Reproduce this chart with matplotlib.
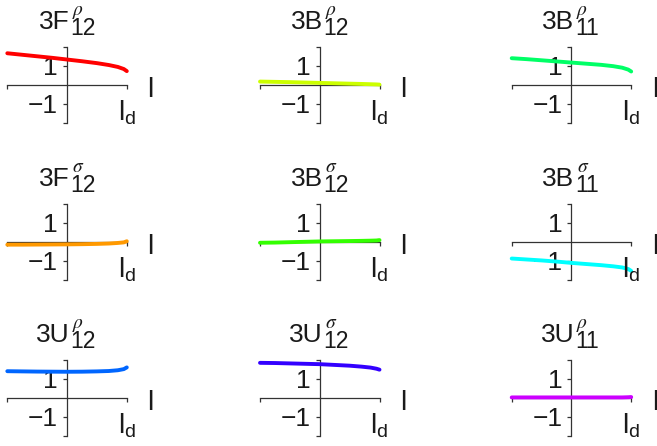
import numpy as np
from matplotlib import pyplot as plt

plt.rcParams['font.family'] = ['Liberation Sans', 'DejaVu Sans']
plt.rcParams['axes.unicode_minus'] = True

# sample positions along l, from -l_d to l_d
l_pts = [-1, -0.75, -0.5, -0.25, 0, 0.25, 0.5, 0.7, 0.85, 0.95, 1]

F12_rho = [1.66, 1.58, 1.50, 1.42, 1.33, 1.24, 1.14, 1.04, 0.94, 0.83, 0.72]
B12_rho = [0.17, 0.155, 0.14, 0.12, 0.10, 0.08, 0.06, 0.045, 0.03, 0.02, 0.01]
B11_rho = [1.40, 1.35, 1.29, 1.23, 1.17, 1.11, 1.05, 0.98, 0.90, 0.80, 0.70]
F12_sig = [-0.14, -0.14, -0.135, -0.13, -0.125, -0.115, -0.10, -0.08, -0.05, -0.02, 0.04]
B12_sig = [-0.04, -0.03, -0.01, 0.01, 0.03, 0.04, 0.05, 0.06, 0.07, 0.08, 0.10]
B11_sig = [-0.87, -0.92, -0.97, -1.03, -1.10, -1.16, -1.22, -1.28, -1.34, -1.42, -1.52]
U12_rho = [1.40, 1.39, 1.38, 1.375, 1.37, 1.375, 1.39, 1.41, 1.45, 1.51, 1.60]
U12_sig = [1.84, 1.83, 1.81, 1.79, 1.77, 1.73, 1.69, 1.64, 1.59, 1.53, 1.48]
U11_rho = [0.02, 0.02, 0.02, 0.02, 0.02, 0.02, 0.02, 0.02, 0.02, 0.03, 0.04]

# (letter, greek superscript, subscript) per panel, row by row
titles = [('3F', 'ρ', '12'), ('3B', 'ρ', '12'), ('3B', 'ρ', '11'),
          ('3F', 'σ', '12'), ('3B', 'σ', '12'), ('3B', 'σ', '11'),
          ('3U', 'ρ', '12'), ('3U', 'σ', '12'), ('3U', 'ρ', '11')]
series = [F12_rho, B12_rho, B11_rho,
          F12_sig, B12_sig, B11_sig,
          U12_rho, U12_sig, U11_rho]
colors = ['#ff0000', '#ccff00', '#00ff66',
          '#ff9900', '#33ff00', '#00ffff',
          '#0066ff', '#3300ff', '#cc00ff']

W, H = 657, 446
fig = plt.figure(figsize=(W / 100, H / 100), dpi=100)

col_left = [7.3, 260, 511.7]      # px, left end of each x-axis
row_top = [46.8, 204, 359.8]      # px, top of each y-axis
box_w, box_h = 119.5, 76
axis_col = '#333333'
txt_col = '#1a1a1a'

for k in range(9):
    r, c = divmod(k, 3)
    ax = fig.add_axes([col_left[c] / W, 1 - (row_top[r] + box_h) / H,
                       box_w / W, box_h / H])
    ax.set_xlim(-1, 1)
    ax.set_ylim(-2, 2)
    ax.patch.set_visible(False)
    for s in ['top', 'right']:
        ax.spines[s].set_visible(False)
    ax.spines['left'].set_position('zero')
    ax.spines['bottom'].set_position('zero')
    for s in ['left', 'bottom']:
        ax.spines[s].set_color(axis_col)
        ax.spines[s].set_linewidth(0.9)

    ax.set_yticks([-2, -1, 1, 2])
    ax.set_yticklabels(['', '\u22121', '1', ''])
    ax.set_xticks([-1, 1])
    ax.set_xticklabels(['', ''])
    ax.tick_params(axis='both', direction='out', length=3, width=0.9,
                   color=axis_col, labelcolor=txt_col, labelsize=19, pad=3.5)

    ax.plot(l_pts, series[k], color=colors[k], lw=2.8,
            solid_capstyle='round', zorder=3, clip_on=False)

    # axis labels
    ax.text(1.40, -0.62, 'l', fontsize=20, ha='center', va='baseline',
            color=txt_col)
    ax.text(1.0, -1.88, r'$\mathregular{l_d}$', fontsize=20, ha='center',
            va='baseline', color=txt_col)

    # panel title: letters, italic greek superscript, subscript digits
    main, greek, sub = titles[k]
    anchor = (0.05, 2.93)
    ax.annotate(main, anchor, xytext=(0, 0), textcoords='offset points',
                fontsize=19, ha='right', va='baseline', color=txt_col,
                annotation_clip=False)
    ax.annotate(sub, anchor, xytext=(0.5, -4.0), textcoords='offset points',
                fontsize=16.5, ha='left', va='baseline', color=txt_col,
                annotation_clip=False)
    ax.annotate(greek, anchor, xytext=(2.0, 10.5), textcoords='offset points',
                fontsize=14, family='STIXGeneral', style='italic',
                ha='left', va='baseline', color=txt_col,
                annotation_clip=False)

fig.savefig('out.png', dpi=100)
